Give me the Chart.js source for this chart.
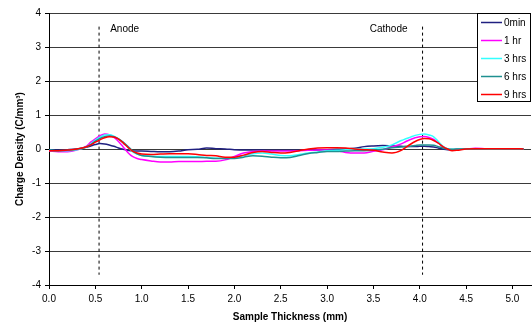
<!DOCTYPE html>
<html><head><meta charset="utf-8">
<script src="https://cdn.jsdelivr.net/npm/chart.js@4/dist/chart.umd.min.js"></script>
<style>html,body{margin:0;padding:0;background:#fff;}canvas{display:block;}</style>
</head><body>
<canvas id="c" width="532" height="329"></canvas>
<script>
const thickness = [0,0.1,0.2,0.3,0.4,0.45,0.5,0.55,0.6,0.65,0.7,0.75,0.8,0.85,0.9,0.95,
  1.0,1.1,1.2,1.3,1.4,1.5,1.6,1.7,1.8,1.9,2.0,2.1,2.2,2.3,2.4,2.5,2.6,2.7,2.8,2.9,
  3.0,3.1,3.2,3.3,3.4,3.5,3.6,3.7,3.8,3.85,3.9,3.95,4.0,4.05,4.1,4.15,4.2,4.25,4.3,4.35,
  4.4,4.5,4.6,4.7,4.8,4.9,5.0,5.12];
const s0min = [-0.03,-0.03,-0.02,0.0,0.05,0.09,0.13,0.16,0.15,0.12,0.08,0.03,-0.01,-0.04,-0.06,-0.06,
  -0.06,-0.07,-0.08,-0.08,-0.06,-0.02,-0.01,0.03,0.01,0.0,-0.02,-0.03,-0.03,-0.03,-0.04,-0.04,-0.04,-0.04,-0.04,-0.03,
  -0.02,-0.01,0.0,0.02,0.07,0.09,0.1,0.09,0.08,0.07,0.07,0.07,0.08,0.08,0.07,0.06,0.03,0.0,-0.02,-0.02,
  -0.01,0.0,0.0,0.0,0.01,0.01,0.0,0.0];
const s1hr = [-0.06,-0.08,-0.08,-0.03,0.08,0.2,0.3,0.39,0.44,0.42,0.34,0.22,0.06,-0.1,-0.22,-0.28,
  -0.31,-0.35,-0.38,-0.38,-0.37,-0.37,-0.37,-0.36,-0.36,-0.32,-0.22,-0.12,-0.07,-0.06,-0.06,-0.06,-0.06,-0.05,-0.04,-0.03,
  -0.03,-0.05,-0.1,-0.12,-0.12,-0.07,-0.02,0.06,0.15,0.22,0.28,0.33,0.36,0.37,0.34,0.28,0.18,0.07,0.0,-0.02,
  -0.01,0.0,0.02,0.01,0.0,0.0,0.0,0.0];
const s3hrs = [-0.04,-0.05,-0.05,-0.02,0.06,0.15,0.26,0.35,0.41,0.42,0.38,0.3,0.18,0.05,-0.08,-0.15,
  -0.19,-0.21,-0.22,-0.22,-0.22,-0.22,-0.23,-0.25,-0.27,-0.27,-0.26,-0.2,-0.14,-0.12,-0.15,-0.19,-0.2,-0.16,-0.12,-0.09,
  -0.05,-0.04,-0.02,0.0,0.0,0.01,0.05,0.12,0.25,0.3,0.35,0.4,0.43,0.44,0.41,0.36,0.22,0.08,0.01,-0.01,
  0.0,0.0,0.0,0.0,-0.01,0.0,0.0,0.0];
const s6hrs = [-0.04,-0.05,-0.04,-0.01,0.06,0.13,0.23,0.31,0.36,0.38,0.36,0.3,0.2,0.08,-0.05,-0.14,
  -0.19,-0.22,-0.24,-0.25,-0.25,-0.25,-0.25,-0.26,-0.28,-0.28,-0.28,-0.24,-0.2,-0.21,-0.24,-0.26,-0.25,-0.19,-0.13,-0.1,
  -0.07,-0.07,-0.06,-0.05,-0.05,-0.04,-0.01,0.04,0.06,0.07,0.08,0.1,0.12,0.12,0.12,0.11,0.07,0.03,0.0,-0.01,
  0.0,0.0,0.0,0.0,0.0,0.0,0.0,0.0];
const s9hrs = [-0.05,-0.05,-0.03,0.0,0.06,0.12,0.2,0.27,0.33,0.36,0.35,0.29,0.18,0.05,-0.06,-0.12,
  -0.15,-0.16,-0.15,-0.14,-0.14,-0.14,-0.16,-0.19,-0.2,-0.24,-0.24,-0.18,-0.1,-0.07,-0.1,-0.12,-0.1,-0.05,0.0,0.03,
  0.04,0.04,0.03,0.0,-0.02,-0.04,-0.09,-0.12,-0.04,0.05,0.14,0.22,0.28,0.31,0.3,0.25,0.17,0.07,0.0,-0.05,
  -0.04,0.0,0.01,0.01,0.01,0.01,0.01,0.0];
const seriesNames = ['0min','1 hr','3 hrs','6 hrs','9 hrs'];
const seriesValues = [s0min, s1hr, s3hrs, s6hrs, s9hrs];
const seriesColors = ['#202080','#ff00ff','#33ffff','#1f9090','#ff0000'];
const markerX = [0.54, 4.03];
const markerSpan = [-3.7, 3.6];
const markerLabels = ['Anode','Cathode'];
const markerLabelX = [0.66, 3.46];
const markerLabelY = 3.53;

const FONT = '"Liberation Sans", Arial, sans-serif';

const datasets = seriesValues.map((vals,i)=>({
  label: seriesNames[i],
  data: thickness.map((x,j)=>({x:x, y:vals[j]})),
  borderColor: seriesColors[i],
  backgroundColor: seriesColors[i],
  borderWidth: 1.5,
  pointRadius: 0,
  cubicInterpolationMode: 'monotone',
  fill: false,
  order: 10 - i
}));
markerX.forEach(mx=>{
  datasets.push({
    label: '',
    isMarker: true,
    data: [{x:mx, y:markerSpan[1]}, {x:mx, y:markerSpan[0]}],
    borderColor: '#000',
    borderWidth: 1,
    borderDash: [3,3],
    pointRadius: 0,
    fill: false,
    order: 20
  });
});

const overlay = {
  id: 'overlay',
  afterDatasetsDraw(chart){
    const ctx = chart.ctx, xs = chart.scales.x, ys = chart.scales.y;
    ctx.save();
    ctx.font = '10px ' + FONT;
    ctx.fillStyle = '#000';
    ctx.textBaseline = 'middle';
    ctx.textAlign = 'left';
    markerLabels.forEach((t,i)=>{
      ctx.fillText(t, xs.getPixelForValue(markerLabelX[i]), ys.getPixelForValue(markerLabelY));
    });
    // legend box
    const lx = 477.5, ly = 13.5, lw = 53, lh = 88;
    ctx.fillStyle = '#fff';
    ctx.fillRect(lx, ly, lw, lh);
    ctx.strokeStyle = '#000';
    ctx.lineWidth = 1;
    ctx.strokeRect(lx, ly, lw, lh);
    seriesNames.forEach((n,i)=>{
      const y = 22.5 + i*18;
      ctx.strokeStyle = seriesColors[i];
      ctx.lineWidth = 1.5;
      ctx.beginPath(); ctx.moveTo(481, y); ctx.lineTo(502, y); ctx.stroke();
      ctx.fillStyle = '#000';
      ctx.fillText(n, 504, y + 0.5);
    });
    ctx.restore();
  }
};

new Chart(document.getElementById('c'), {
  type: 'line',
  data: { datasets },
  plugins: [overlay],
  options: {
    responsive: false,
    animation: false,
    layout: { padding: { top: 13, right: 1, left: 0, bottom: 0 } },
    plugins: { legend: { display: false }, tooltip: { enabled: false } },
    scales: {
      x: {
        type: 'linear', min: 0, max: 5.2,
        afterFit(s){ s.height = 44; },
        ticks: { stepSize: 0.5, includeBounds: false, autoSkip: false, maxRotation: 0,
          callback: v => Number(v).toFixed(1), color: '#000', padding: 4,
          font: { family: FONT, size: 10 } },
        grid: { drawOnChartArea: false, drawTicks: true, tickLength: 4, color: '#000' },
        border: { color: '#000', width: 1 },
        title: { display: true, text: 'Sample Thickness (mm)', color: '#000',
          font: { family: FONT, size: 10, weight: 'bold' }, padding: { top: 0, bottom: 6 } }
      },
      y: {
        type: 'linear', min: -4, max: 4,
        afterFit(s){ s.width = 49; },
        ticks: { stepSize: 1, color: '#000', padding: 4, font: { family: FONT, size: 10 } },
        grid: { color: '#3a3a3a', lineWidth: 1, tickLength: 4, tickColor: '#000' },
        border: { color: '#000', width: 1 },
        title: { display: true, text: 'Charge Density (C/mm\u00B3)', color: '#000',
          font: { family: FONT, size: 10, weight: 'bold' }, padding: { top: 14, bottom: 0 } }
      }
    }
  }
});
</script>
</body></html>
